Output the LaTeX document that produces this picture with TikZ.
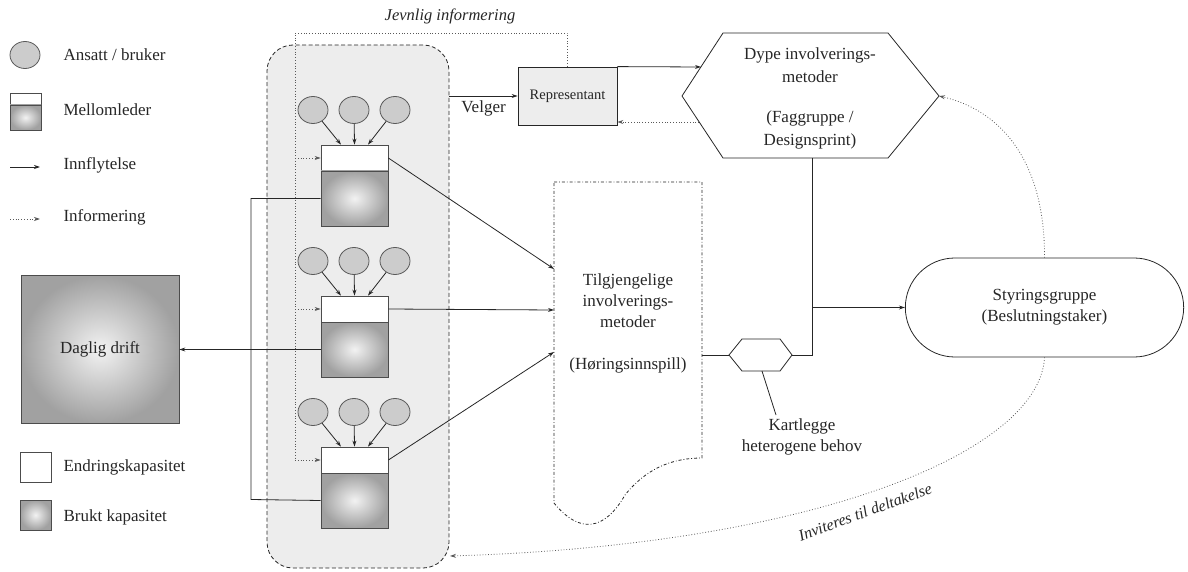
\documentclass[tikz,border=0pt]{standalone}
\usepackage{fontspec}
\setmainfont{Liberation Serif}
\usetikzlibrary{arrows.meta,shapes.misc,shapes.geometric}

\begin{document}
\begin{tikzpicture}[x=1pt,y=-1pt,
  every node/.style={font=\fontsize{17}{21}\selectfont, text=black!85},
  line/.style={draw=black!85, line width=0.8pt},
  arr/.style={line, -{Stealth[length=6pt,width=4pt]}},
  infoline/.style={draw=black!65, line width=0.8pt, dotted},
  infoarr/.style={infoline, -{Stealth[length=6pt,width=4pt]}},
  person/.style={ellipse, draw=black!65, fill=black!20, line width=0.8pt,
    minimum width=30pt, minimum height=27pt, inner sep=0pt},
  capfree/.style={rectangle, draw=black!70, fill=white, line width=0.8pt,
    minimum width=67pt, minimum height=26pt, inner sep=0pt},
  capused/.style={rectangle, draw=black!70, inner color=black!5, outer color=black!37,
    line width=0.8pt, minimum width=67pt, minimum height=55pt, inner sep=0pt},
  legtext/.style={anchor=west},
]
\useasboundingbox (0,0) rectangle (1188,572);

% ---------- legend ----------
\node[person] (lp) at (25,55) {};
\node[legtext] (lpt) at (60,55) {Ansatt / bruker};
\node[capfree, minimum width=31pt, minimum height=12pt] (lf) at (25.5,99) {};
\node[capused, minimum width=31pt, minimum height=25pt] (lu) at (25.5,117.5) {};
\node[legtext] (lmt) at (60,110) {Mellomleder};
\coordinate (la1) at (10,167); \coordinate (la2) at (40,167);
\draw[arr] (la1) -- (la2);
\node[legtext] (lit) at (60,165) {Innflytelse};
\coordinate (lb1) at (10,219); \coordinate (lb2) at (40,219);
\draw[infoarr] (lb1) -- (lb2);
\node[legtext] (lint) at (60,217) {Informering};
\node[capfree, minimum width=31pt, minimum height=30pt] (le) at (35.5,467) {};
\node[legtext] (let) at (60,467) {Endringskapasitet};
\node[capused, minimum width=31pt, minimum height=30pt] (lk) at (35.5,515) {};
\node[legtext] (lkt) at (60,517) {Brukt kapasitet};

% ---------- daily operations ----------
\node[capused, minimum width=158pt, minimum height=148pt] (drift) at (100,349.5) {Daglig drift};

% ---------- pool of employees and middle managers ----------
\node[draw=black!85, line width=0.8pt, dash pattern=on 4pt off 2.5pt, rounded corners=26pt,
  fill=black!7, minimum width=182pt, minimum height=523pt] (pool) at (358,306.5) {};

\foreach \i/\dy in {1/0,2/151,3/302}{
  \node[person] (e\i a) at (313,110+\dy) {};
  \node[person] (e\i b) at (354,110+\dy) {};
  \node[person] (e\i c) at (395,110+\dy) {};
  \node[capfree] (f\i) at (354.5,158+\dy) {};
  \node[capused] (u\i) at (354.5,198.5+\dy) {};
  \draw[arr] (e\i a) -- ([xshift=-13.5pt]f\i.north);
  \draw[arr] (e\i b) -- (f\i.north);
  \draw[arr] (e\i c) -- ([xshift=13.5pt]f\i.north);
}

% used capacity feeds daily operations
\coordinate (b1) at (251,198.5);
\coordinate (b2) at (251,349.5);
\coordinate (b3) at (251,499.5);
\draw[line] (u1.west) -- (b1) -- (b3) -- (u3.west);
\draw[line] (u2.west) -- (b2);
\draw[arr] (b2) -- (drift.east);

% ---------- representative ----------
\node[draw=black!85, line width=0.8pt, fill=black!7, minimum width=99pt, minimum height=58pt,
  inner sep=0pt, font=\fontsize{14.5}{17}\selectfont] (rep) at (567.5,96) {Representant};
\draw[arr] (pool.east |- rep.west) -- node[below, yshift=-1pt] {Velger} (rep.west);

% regular information from the representative
\coordinate (j1) at (295,33);
\draw[infoline] (rep.north) -- (rep.north |- j1) -- (j1) -- (j1 |- f3.west);
\foreach \i in {1,2,3}{
  \draw[infoarr] (j1 |- f\i.west) -- (f\i.west);
}
\node[font=\itshape\fontsize{16.5}{20}\selectfont] (jtext) at (450,16) {Jevnlig informering};

% ---------- deep involvement methods ----------
\coordinate (dL) at (682,96);
\coordinate (dTL) at (723,33);
\coordinate (dTR) at (888,33);
\coordinate (dR) at (939,96);
\coordinate (dBR) at (888,158);
\coordinate (dBL) at (723,158);
\coordinate (dS) at (812,158);
\draw[line] (dL) -- (dTL) -- (dTR) -- (dR) -- (dBR) -- (dBL) -- cycle;
\node[align=center, font=\fontsize{17}{23}\selectfont] (dtop) at (810,65) {Dype involverings-\\metoder};
\node[align=center, font=\fontsize{17}{23}\selectfont] (dbot) at (810,130) {(Faggruppe /\\Designsprint)};
\coordinate (dA) at (701,67);
\coordinate (dB) at (699,122);
\draw[arr] (rep.north east) -- (dA);
\draw[infoarr] (dB) -- (dB -| rep.east);

% ---------- available involvement methods ----------
\draw[draw=black!85, line width=0.8pt, dash dot]
  (554,182) -- (702,182) -- (702,458)
  .. controls (670,458) and (645,470) .. (625,495)
  .. controls (605,530) and (580,535) .. (554,503) -- cycle;
\coordinate (t1) at (554,269);
\coordinate (t2) at (554,310);
\coordinate (t3) at (554,352);
\coordinate (tR) at (702,355);
\node[align=center] (ttop) at (628,301) {Tilgjengelige\\involverings-\\metoder};
\node (tbot) at (628,365) {(Høringsinnspill)};
\draw[arr] (f1.east) -- (t1);
\draw[arr] (f2.east) -- (t2);
\draw[arr] (f3.east) -- (t3);

% ---------- mapping of needs ----------
\coordinate (hL) at (729,355);
\coordinate (hTL) at (742,339);
\coordinate (hTR) at (780,339);
\coordinate (hR) at (792,355);
\coordinate (hBR) at (780,371);
\coordinate (hBL) at (742,371);
\draw[line] (hL) -- (hTL) -- (hTR) -- (hR) -- (hBR) -- (hBL) -- cycle;
\draw[line] (tR) -- (hL);
\node[align=center] (kart) at (802,437) {Kartlegge\\heterogene behov};
\coordinate (hP) at (762,371);
\draw[line] (hP) -- (776,415);

% ---------- steering group ----------
\node[rounded rectangle, draw=black!85, line width=0.8pt, minimum width=285pt, minimum height=99pt,
  align=center] (sty) at (1044.5,307.5) {Styringsgruppe\\(Beslutningstaker)};
\coordinate (junc) at (812,307.5);
\draw[line] (dS) -- (junc);
\draw[line] (hR) -- (hR -| junc) -- (junc);
\draw[arr] (junc) -- (sty.west);

% invitations from the steering group
\draw[infoarr] (sty.north) .. controls (1045,160) and (1000,110) .. (dR);
\coordinate (pe) at (450,556);
\draw[infoarr] (sty.south) .. controls (1040,450) and (820,545) .. (pe);
\node[font=\itshape\fontsize{16}{19}\selectfont, rotate=20] (inv) at (865,512) {Inviteres til deltakelse};

\end{tikzpicture}
\end{document}
